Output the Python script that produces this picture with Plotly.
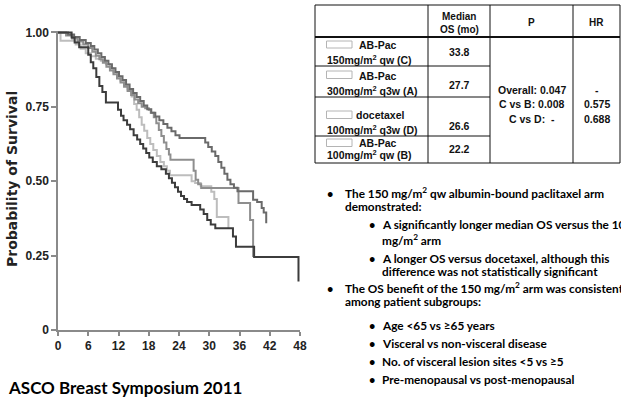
import plotly.graph_objects as go

# ---------------- data ----------------
# Kaplan-Meier step points: months and survival probability
months_C = [0, 2.0, 3.2, 4.3, 5.5, 6.5, 7.2, 7.9, 8.6, 9.3, 10.0, 10.7, 11.4, 12.1, 12.8, 13.5,
            14.2, 14.9, 15.6, 16.3, 17.0, 17.7, 18.5, 19.3, 20.1, 20.9, 21.7, 22.5, 23.3, 24.1,
            29.2, 29.8, 30.5, 31.2, 31.8, 32.4, 33.0, 33.6, 34.2, 34.9, 35.6, 38.7, 39.5, 40.4,
            40.8, 41.3]
surv_C = [1.0, 0.993, 0.985, 0.975, 0.965, 0.955, 0.943, 0.93, 0.918, 0.905, 0.893, 0.88, 0.867,
          0.853, 0.84, 0.825, 0.81, 0.797, 0.783, 0.77, 0.755, 0.742, 0.73, 0.718, 0.705, 0.692,
          0.68, 0.668, 0.655, 0.645, 0.63, 0.615, 0.60, 0.585, 0.565, 0.545, 0.525, 0.505, 0.49,
          0.478, 0.466, 0.438, 0.43, 0.41, 0.395, 0.359]

months_A = [0, 1.6, 2.8, 3.9, 5.0, 6.0, 6.8, 7.5, 8.2, 8.9, 9.6, 10.3, 11.0, 11.7, 12.4, 13.1,
            13.8, 14.5, 15.2, 15.9, 16.6, 17.3, 18.0, 18.4, 19.0, 19.5, 20.0, 20.5, 21.0, 21.5,
            22.0, 22.3, 26.9, 27.3, 27.8, 28.4, 35.8, 38.1, 38.7]
surv_A = [1.0, 0.99, 0.98, 0.97, 0.96, 0.948, 0.935, 0.922, 0.91, 0.898, 0.885, 0.872, 0.86,
          0.845, 0.832, 0.818, 0.803, 0.79, 0.775, 0.762, 0.75, 0.745, 0.74, 0.73, 0.715, 0.695,
          0.672, 0.652, 0.63, 0.608, 0.59, 0.572, 0.535, 0.505, 0.49, 0.477, 0.427, 0.37, 0.245]

months_D = [0, 0.5, 3.5, 4.5, 5.5, 6.5, 7.5, 8.5, 9.5, 10.3, 11.0, 11.7, 12.4, 13.1, 13.8, 14.6,
            15.1, 15.6, 16.1, 16.6, 17.1, 17.7, 18.3, 18.9, 19.6, 20.3, 21.0, 21.6, 22.2, 26.5,
            27.2, 28.3, 30.4, 31.0, 31.5, 33.8]
surv_D = [1.0, 0.972, 0.96, 0.945, 0.93, 0.92, 0.912, 0.905, 0.893, 0.88, 0.866, 0.852, 0.838,
          0.823, 0.808, 0.785, 0.76, 0.74, 0.715, 0.69, 0.67, 0.645, 0.625, 0.605, 0.585, 0.565,
          0.55, 0.535, 0.52, 0.50, 0.494, 0.483, 0.465, 0.44, 0.38, 0.342]

months_B = [0, 2.7, 3.3, 4.2, 6.0, 6.5, 7.0, 7.6, 8.2, 8.8, 9.5, 11.9, 12.5, 13.0, 13.7, 14.3,
            15.0, 15.7, 16.3, 16.9, 17.5, 18.1, 18.8, 19.6, 20.5, 21.4, 22.0, 22.6, 23.2, 23.8,
            24.4, 25.0, 25.6, 26.5, 28.2, 28.9, 29.6, 30.3, 31.2, 34.7, 35.3, 38.9, 47.7]
surv_B = [1.0, 0.983, 0.966, 0.95, 0.925, 0.90, 0.88, 0.85, 0.82, 0.80, 0.765, 0.74, 0.72,
          0.705, 0.69, 0.675, 0.655, 0.64, 0.625, 0.61, 0.595, 0.58, 0.565, 0.55, 0.54, 0.525,
          0.51, 0.495, 0.48, 0.465, 0.45, 0.44, 0.43, 0.42, 0.405, 0.39, 0.37, 0.355, 0.342,
          0.314, 0.28, 0.245, 0.163]

x_ticks = [0, 6, 12, 18, 24, 30, 36, 42, 48]
y_ticks = [0, 0.25, 0.50, 0.75, 1.00]
y_tick_labels = ["0", "0.25", "0.50", "0.75", "1.00"]

table_arm_top = ["AB-Pac", "AB-Pac", "docetaxel", "AB-Pac"]
table_arm_bottom = ["150mg/m<sup>2</sup> qw (C)", "300mg/m<sup>2</sup> q3w (A)",
                    "100mg/m<sup>2</sup> q3w (D)", "100mg/m<sup>2</sup> qw (B)"]
table_median = ["33.8", "27.7", "26.6", "22.2"]
table_p = ["Overall: 0.047", "C vs B: 0.008", "C vs D:  -"]
table_hr = ["-", "0.575", "0.688"]

bullets = [
    (1, "The 150 mg/m<sup>2</sup> qw albumin-bound paclitaxel arm", "demonstrated:"),
    (2, "A significantly longer median OS versus the 100", "mg/m<sup>2</sup> arm"),
    (2, "A longer OS versus docetaxel, although this", "difference was not statistically significant"),
    (1, "The OS benefit of the 150 mg/m<sup>2</sup> arm was consistent", "among patient subgroups:"),
    (2, "Age &lt;65 vs ≥65 years", None),
    (2, "Visceral vs non-visceral disease", None),
    (2, "No. of visceral lesion sites &lt;5 vs ≥5", None),
    (2, "Pre-menopausal vs post-menopausal", None),
]

# ---------------- figure ----------------
W, H = 621, 398
ML, MR, MT, MB = 58, 321, 31, 68
PW, PH = W - ML - MR, H - MT - MB


def px(X):
    return (X - ML) / PW


def py(Y):
    return (H - MB - Y) / PH


ARIAL = "Liberation Sans, Arial, sans-serif"
CAL = "Lato, Carlito, Calibri, sans-serif"
AXIS_GRAY = "#8a8a8a"

fig = go.Figure()
curves = [
    (months_D, surv_D, "#bdbdbd"),
    (months_A, surv_A, "#8e8e8e"),
    (months_C, surv_C, "#6a6a6a"),
    (months_B, surv_B, "#3c3c3c"),
]
for t, s, col in curves:
    fig.add_trace(go.Scatter(x=t, y=s, mode="lines",
                             line=dict(shape="hv", color=col, width=2),
                             showlegend=False, hoverinfo="skip"))

annotations = []


def ann(text, X, Y, size, family=ARIAL, xanchor="left", color="#111", weight="bold", angle=0):
    annotations.append(dict(text=text, x=px(X), y=py(Y), xref="paper", yref="paper",
                            xanchor=xanchor, yanchor="middle", showarrow=False,
                            textangle=angle,
                            font=dict(family=family, size=size, color=color, weight=weight)))


shapes = []


def line(x0, y0, x1, y1, width=1, color="#111"):
    shapes.append(dict(type="line", xref="paper", yref="paper",
                       x0=px(x0), y0=py(y0), x1=px(x1), y1=py(y1),
                       line=dict(color=color, width=width)))


def rect(x0, y0, x1, y1, color="#111", width=1):
    shapes.append(dict(type="rect", xref="paper", yref="paper",
                       x0=px(x0), y0=py(y0), x1=px(x1), y1=py(y1),
                       line=dict(color=color, width=width), fillcolor="rgba(0,0,0,0)"))


# y-axis title
ann("Probability of Survival", 12, 179, 14, family="DejaVu Sans, sans-serif", xanchor="center",
    color="#222", angle=-90)

# table
TX = [315, 428, 490, 573, 620]
TY_top, TY_head, TY_bot = 5, 37, 163
row_lines = [66, 97, 136]
rect(TX[0], TY_top, TX[-1], TY_bot)
line(TX[0], TY_head, TX[-1], TY_head, width=2)
for yl in row_lines:
    line(TX[0], yl, TX[2], yl)
for xl in TX[1:-1]:
    line(xl, TY_top, xl, TY_bot)

ann("Median", (TX[1] + TX[2]) / 2, 16.5, 10, xanchor="center")
ann("OS (mo)", (TX[1] + TX[2]) / 2, 29, 10, xanchor="center")
ann("P", (TX[2] + TX[3]) / 2, 22.5, 10, xanchor="center")
ann("HR", (TX[3] + TX[4]) / 2, 22.5, 10, xanchor="center")

row_top_y = [45, 75.5, 115, 142.5]
row_bot_y = [59.5, 90.5, 129.5, 154.5]
row_med_y = [52.5, 85, 126, 149]
swatch_y = [(41, 48), (71, 78.5), (111, 118.5), (139, 146.5)]
for i in range(4):
    rect(326.5, swatch_y[i][0], 352, swatch_y[i][1], color="#b4b4b4")
    ann(table_arm_top[i], 356.5 if i != 2 else 354, row_top_y[i], 10.5)
    ann(table_arm_bottom[i], 325, row_bot_y[i], 10.5)
    ann(table_median[i], (TX[1] + TX[2]) / 2, row_med_y[i], 10.5, xanchor="center")

p_y = [89.5, 104, 118.5]
for i in range(3):
    ann(table_p[i], (TX[2] + TX[3]) / 2, p_y[i], 10.5, xanchor="center")
    ann(table_hr[i], (TX[3] + TX[4]) / 2, p_y[i], 10.5, xanchor="center")

# bullets
bullet_y = [(193.3, 206.7), (224.3, 240), (258.3, 271.7), (288.3, 301.7),
            (325, None), (343.3, None), (361.7, None), (380, None)]
for (lvl, l1, l2), (y1, y2) in zip(bullets, bullet_y):
    bx, tx = (330, 343) if lvl == 1 else (372, 380)
    ann("•", bx, y1, 11, family=CAL, xanchor="center", color="#000")
    ann(l1, tx, y1, 11.8, family=CAL, color="#000")
    if l2:
        ann(l2, tx, y2, 11.8, family=CAL, color="#000")

ann("ASCO Breast Symposium 2011", 6, 387, 17, family=CAL, color="#000")

fig.update_layout(
    width=W, height=H,
    margin=dict(l=ML, r=MR, t=MT, b=MB),
    paper_bgcolor="white", plot_bgcolor="white",
    annotations=annotations, shapes=shapes,
    xaxis=dict(range=[0, 48], tickvals=x_ticks, ticks="outside", ticklen=4, tickwidth=1.5,
               tickcolor=AXIS_GRAY, showline=True, linecolor=AXIS_GRAY, linewidth=1.5,
               showgrid=False, zeroline=False,
               tickfont=dict(family=ARIAL, size=12, color="#222", weight="bold")),
    yaxis=dict(range=[0, 1.005], tickvals=y_ticks, ticktext=y_tick_labels, ticks="outside",
               ticklen=5, tickwidth=1.5, tickcolor=AXIS_GRAY, showline=True,
               linecolor=AXIS_GRAY, linewidth=1.5, showgrid=False, zeroline=False,
               tickfont=dict(family=ARIAL, size=12, color="#222", weight="bold")),
)

fig.write_html("out.html", config={"displayModeBar": False},
               post_script="document.body.style.margin='0';")
